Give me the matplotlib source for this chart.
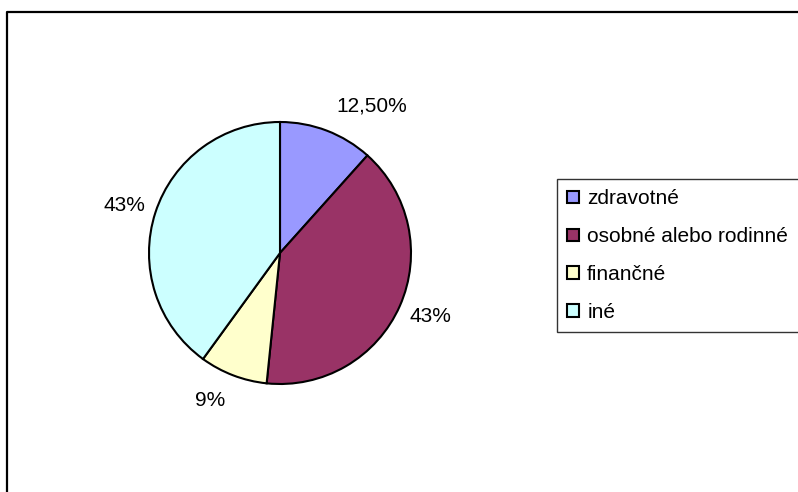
import numpy as np
import matplotlib
matplotlib.use("Agg")
import matplotlib.pyplot as plt
from matplotlib.lines import Line2D

# data
categories = ["zdravotné", "osobné alebo rodinné", "finančné", "iné"]
values = [12.5, 43, 9, 43]
value_labels = ["12,50%", "43%", "9%", "43%"]
colors = ["#9999FF", "#993366", "#FFFFCC", "#CCFFFF"]

plt.rcParams['font.family'] = ['Liberation Sans', 'DejaVu Sans']

W, H = 798, 492
fig = plt.figure(figsize=(W / 100, H / 100), dpi=100)
ax = fig.add_axes([0, 0, 1, 1])

cx, cy, r = 280, H - 253, 131
wedges, texts = ax.pie(values, labels=value_labels, colors=colors,
                       startangle=90, counterclock=False,
                       center=(cx, cy), radius=r, labeldistance=1.245,
                       wedgeprops=dict(edgecolor="black", linewidth=1.5),
                       textprops=dict(fontsize=15, color="black"))

# Excel places the labels a bit off the mid-angle: (angle deg, distance in radii)
label_pos = [(58, 1.32), (-23, 1.245), (-115.5, 1.245), (163, 1.245)]
for t, (a, d) in zip(texts, label_pos):
    t.set_horizontalalignment("center")
    t.set_verticalalignment("center")
    a = np.deg2rad(a)
    t.set_position((cx + d * r * np.cos(a), cy + d * r * np.sin(a)))

ax.set_xlim(0, W)
ax.set_ylim(0, H)
ax.set_aspect("equal")
ax.axis("off")

# legend runs off the right edge, as in the cropped original
leg = ax.legend(wedges, categories, loc="upper left", mode="expand",
                bbox_to_anchor=(557 / W, 1 - 331 / H, 0.33, 152 / H),
                bbox_transform=fig.transFigure,
                borderaxespad=0, fontsize=15, frameon=True, fancybox=False,
                handlelength=0.55, handleheight=0.55, handletextpad=0.4,
                labelspacing=0.9, borderpad=0.5)
leg.get_frame().set_edgecolor("black")
leg.get_frame().set_linewidth(1)
for h in leg.legend_handles:
    h.set_edgecolor("black")
    h.set_linewidth(1.5)

# chart area border (cropped at right/bottom)
fig.add_artist(Line2D([7 / W, 7 / W, 1.01], [-0.01, 1 - 12 / H, 1 - 12 / H],
                      transform=fig.transFigure, color="black", linewidth=1.6))

fig.savefig("out.png", dpi=100)
